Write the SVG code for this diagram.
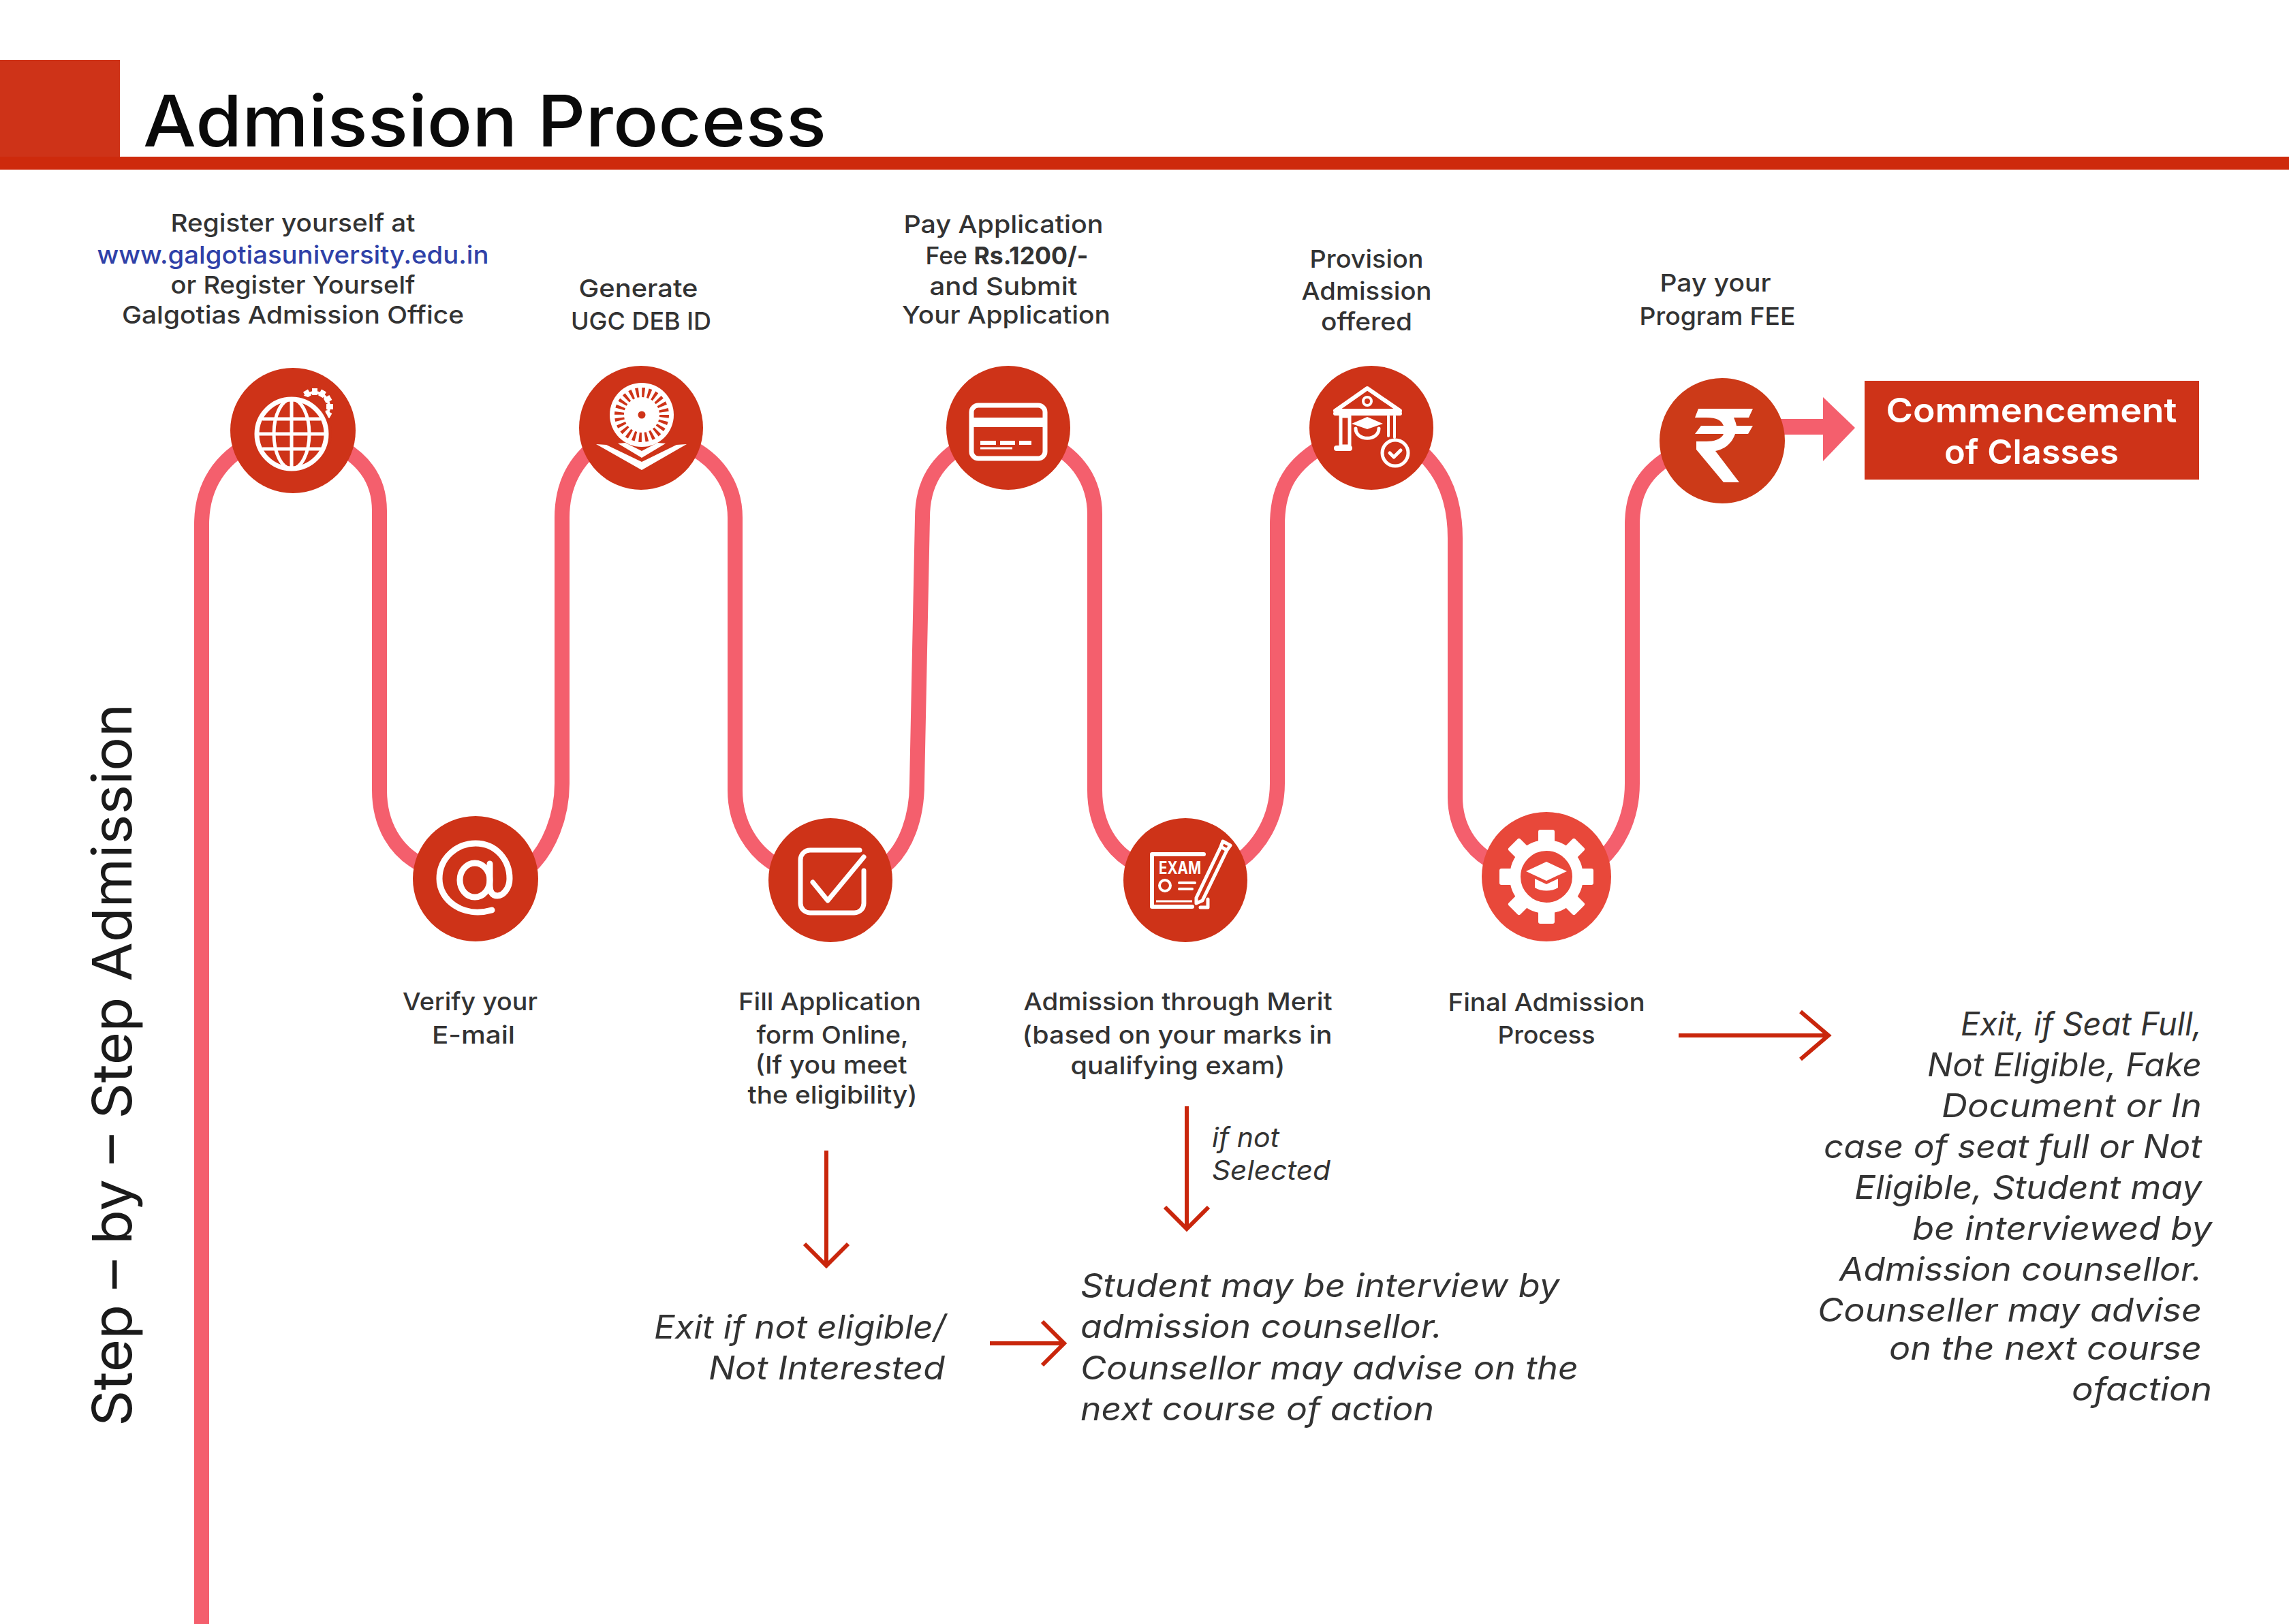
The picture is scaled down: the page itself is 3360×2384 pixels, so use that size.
<svg xmlns="http://www.w3.org/2000/svg" xmlns:xlink="http://www.w3.org/1999/xlink" width="3360" height="2384" viewBox="0 0 3360 2384">
<style>
text{font-family:"Inter","Liberation Sans",sans-serif}
.l{font-size:36px;fill:#333;text-anchor:middle;font-weight:500}
.i{font-size:48px;fill:#333;font-style:italic}
.n{fill:#CE3318}
.w{fill:none;stroke:#fff;stroke-width:7;stroke-linejoin:round;stroke-linecap:round}
.f{fill:#fff}
.a{fill:none;stroke:#C9260C;stroke-width:6}
</style>
<defs>
<rect id="tooth" class="f" x="-12" y="-69" width="24" height="24" rx="3"/>
<rect id="cog" class="f" x="-4" y="-27" width="8" height="10"/>
</defs>
<rect width="3360" height="2384" fill="#fff"/>
<g id="header">
<rect x="0" y="88" width="176" height="161" fill="#CE3318"/>
<rect x="0" y="230" width="3360" height="19" fill="#CE2A0C"/>
<text x="210" y="215" font-size="104" font-weight="500" fill="#0a0a0a" textLength="1003" lengthAdjust="spacingAndGlyphs">Admission Process</text>
</g>
<text id="side-title" transform="translate(193 2094) rotate(-90)" font-size="80" fill="#1a1a1a" textLength="1061" lengthAdjust="spacingAndGlyphs">Step – by – Step Admission</text>
<g id="connectors">
<path fill="none" stroke="#F45F6D" stroke-width="22" d="M296 2384V770C296 712 325 672 370 650L490 650C530 672 557 700 557 750V1160C557 1210 580 1250 620 1270L780 1270C805 1245 825 1200 825 1150V760C825 710 845 675 880 650L1000 650C1050 670 1079 710 1079 760V1160C1079 1210 1105 1250 1140 1270L1300 1270C1330 1245 1346 1200 1346 1150L1354 760C1354 710 1375 675 1420 650L1540 650C1580 670 1607 705 1607 755V1160C1607 1210 1630 1250 1670 1270L1810 1270C1850 1245 1875 1200 1875 1150V770C1875 715 1895 680 1950 650L2070 650C2110 680 2136 720 2136 790V1170C2136 1210 2155 1250 2200 1270L2340 1270C2375 1245 2396 1200 2396 1150V770C2396 715 2420 685 2470 660"/>
<path fill="#F45F6D" d="M2600 615H2676V583L2723 628L2676 677V638H2600Z"/>
<path class="a" d="M1213 1689V1858M1181 1826L1213 1858L1245 1826"/>
<path class="a" d="M1742 1624V1804M1710 1772L1742 1804L1774 1772"/>
<path class="a" d="M1453 1972H1562M1530 1940L1562 1972L1530 2004"/>
<path class="a" d="M2464 1520H2684M2643 1485L2684 1520L2643 1555"/>
</g>
<g id="node-register">
<circle class="n" cx="430" cy="632" r="92"/>
<g transform="translate(462 597)"><circle class="w" r="21" style="stroke-width:4"/><use xlink:href="#cog" href="#cog"/><use href="#cog" transform="rotate(30)"/><use href="#cog" transform="rotate(60)"/><use href="#cog" transform="rotate(90)"/><use href="#cog" transform="rotate(120)"/><use href="#cog" transform="rotate(150)"/><use href="#cog" transform="rotate(-30)"/></g>
<circle class="n" cx="428" cy="637" r="59"/>
<circle class="w" cx="428" cy="637" r="51"/><ellipse class="w" cx="428" cy="637" rx="26" ry="51" style="stroke-width:5"/><path class="w" d="M428 586V688M381 637H475M386 615H470M386 659H470" style="stroke-width:5"/>
<text class="l" x="430" y="340" textLength="359" lengthAdjust="spacingAndGlyphs">Register yourself at</text>
<text class="l" x="430" y="387" textLength="575" lengthAdjust="spacingAndGlyphs" style="fill:#2F41A8">www.galgotiasuniversity.edu.in</text>
<text class="l" x="430" y="431" textLength="359" lengthAdjust="spacingAndGlyphs">or Register Yourself</text>
<text class="l" x="430" y="475" textLength="502" lengthAdjust="spacingAndGlyphs">Galgotias Admission Office</text>
</g>
<g id="node-verify">
<circle class="n" cx="698" cy="1290" r="92"/>
<path class="w" style="stroke-width:9" d="M722 1336C680 1348 645 1322 645 1290C645 1258 672 1238 698 1238C728 1238 748 1262 748 1290C748 1305 738 1315 730 1315C722 1315 719 1308 719 1300V1268"/>
<ellipse class="w" style="stroke-width:9" cx="697" cy="1292" rx="22" ry="25"/>
<text class="l" x="690" y="1483" textLength="198" lengthAdjust="spacingAndGlyphs">Verify your</text>
<text class="l" x="695" y="1532" textLength="122" lengthAdjust="spacingAndGlyphs">E-mail</text>
</g>
<g id="node-ugc">
<circle class="n" cx="941" cy="628" r="91"/>
<circle cx="942" cy="609" r="47" class="f"/><circle cx="942" cy="609" r="33" fill="none" stroke="#CE3318" stroke-width="14" stroke-dasharray="4 4.64"/><circle cx="942" cy="609" r="5.5" class="n"/>
<path class="f" d="M875 652L890 653L942 678L993 653L1008 652L942 690Z"/>
<path class="f" d="M907 651L918 650L942 662L965 650L977 651L942 672Z"/>
<text class="l" x="937" y="436" textLength="175" lengthAdjust="spacingAndGlyphs">Generate</text>
<text class="l" x="941" y="484" textLength="206" lengthAdjust="spacingAndGlyphs">UGC DEB ID</text>
</g>
<g id="node-fill">
<circle class="n" cx="1219" cy="1292" r="91"/>
<path class="w" d="M1268 1278V1326A14 14 0 0 1 1254 1340H1189A14 14 0 0 1 1175 1326V1262A14 14 0 0 1 1189 1248H1262"/>
<path class="w" d="M1193 1295L1215 1322L1268 1258"/>
<text class="l" x="1218" y="1483" textLength="268" lengthAdjust="spacingAndGlyphs">Fill Application</text>
<text class="l" x="1222" y="1532" textLength="223" lengthAdjust="spacingAndGlyphs">form Online,</text>
<text class="l" x="1220" y="1576" textLength="223" lengthAdjust="spacingAndGlyphs">(If you meet</text>
<text class="l" x="1222" y="1620" textLength="249" lengthAdjust="spacingAndGlyphs">the eligibility)</text>
</g>
<g id="node-fee">
<circle class="n" cx="1480" cy="628" r="91"/>
<rect class="w" x="1426" y="595" width="108" height="78" rx="10"/>
<rect class="f" x="1426" y="613" width="108" height="14"/>
<path class="w" d="M1439 650H1462M1468 650H1490M1496 650H1514" style="stroke-width:6;stroke-linecap:butt"/>
<path class="w" d="M1439 658H1486" style="stroke-width:3;stroke-linecap:butt"/>
<text class="l" x="1473" y="342" textLength="293" lengthAdjust="spacingAndGlyphs">Pay Application</text>
<text class="l" x="1478" y="388" textLength="239" lengthAdjust="spacingAndGlyphs">Fee <tspan font-weight="700">Rs.1200/-</tspan></text>
<text class="l" x="1473" y="433" textLength="217" lengthAdjust="spacingAndGlyphs">and Submit</text>
<text class="l" x="1477" y="475" textLength="306" lengthAdjust="spacingAndGlyphs">Your Application</text>
</g>
<g id="node-merit">
<circle class="n" cx="1740" cy="1292" r="91"/>
<path class="w" d="M1767 1254H1691V1331H1750" style="stroke-width:6"/>
<text x="1701" y="1283" font-size="25" font-weight="700" fill="#fff" textLength="62" lengthAdjust="spacingAndGlyphs">EXAM</text>
<circle class="w" cx="1710" cy="1300" r="8" style="stroke-width:4"/><path class="w" d="M1731 1296H1754M1731 1305H1750" style="stroke-width:4"/>
<path d="M1697 1323H1750" stroke="#fff" stroke-width="3"/>
<path fill="#CE3318" stroke="#fff" stroke-width="5" stroke-linejoin="round" d="M1792 1243L1801 1248L1806 1241L1795 1235ZM1792 1243L1756 1318L1756 1326L1765 1322L1801 1248Z"/>
<path class="w" d="M1762 1332H1773V1320" style="stroke-width:5"/>
<text class="l" x="1729" y="1483" textLength="453" lengthAdjust="spacingAndGlyphs">Admission through Merit</text>
<text class="l" x="1728" y="1532" textLength="455" lengthAdjust="spacingAndGlyphs">(based on your marks in</text>
<text class="l" x="1729" y="1577" textLength="315" lengthAdjust="spacingAndGlyphs">qualifying exam)</text>
</g>
<g id="node-offer">
<circle class="n" cx="2013" cy="628" r="91"/>
<path class="w" d="M2007 570L1960 603H2055ZM1960 607H2055" style="stroke-width:6"/>
<circle class="w" cx="2007" cy="589" r="6" style="stroke-width:4"/>
<rect class="w" x="1968" y="611" width="13" height="44" style="stroke-width:5"/>
<path class="w" d="M1962 658H1981" style="stroke-width:8"/>
<path class="w" d="M2038 611V640M2047 611V642" style="stroke-width:4"/>
<path class="f" d="M2007 612L2030 622L2007 630L1984 622Z"/>
<path class="w" d="M1990 629C1990 648 2024 648 2024 629" style="stroke-width:5"/>
<circle class="w" cx="2048" cy="665" r="19" style="stroke-width:5"/>
<path class="w" d="M2040 665L2046 671L2056 661" style="stroke-width:5"/>
<text class="l" x="2006" y="393" textLength="167" lengthAdjust="spacingAndGlyphs">Provision</text>
<text class="l" x="2006" y="440" textLength="191" lengthAdjust="spacingAndGlyphs">Admission</text>
<text class="l" x="2006" y="485" textLength="134" lengthAdjust="spacingAndGlyphs">offered</text>
</g>
<g id="node-final">
<circle cx="2270" cy="1287" r="95" fill="#E8483A"/>
<g transform="translate(2270 1287)">
<circle r="46" fill="none" stroke="#fff" stroke-width="16"/>
<use href="#tooth"/><use href="#tooth" transform="rotate(45)"/><use href="#tooth" transform="rotate(90)"/><use href="#tooth" transform="rotate(135)"/><use href="#tooth" transform="rotate(180)"/><use href="#tooth" transform="rotate(225)"/><use href="#tooth" transform="rotate(270)"/><use href="#tooth" transform="rotate(315)"/>
<path class="f" d="M0 -22L30 -8L0 6L-30 -8Z"/>
<path class="f" d="M-17 3L0 11L17 3V16C8 22 -8 22 -17 16Z"/>
</g>
<text class="l" x="2270" y="1484" textLength="289" lengthAdjust="spacingAndGlyphs">Final Admission</text>
<text class="l" x="2270" y="1532" textLength="143" lengthAdjust="spacingAndGlyphs">Process</text>
</g>
<g id="node-pay">
<circle cx="2528" cy="647" r="92" fill="#CC3A18"/>
<path class="f" d="M2493 600H2573L2567 613H2545Q2548 620 2549 625H2573L2566 637H2547C2542 652 2530 660 2518 662L2553 708H2530L2490 660V648H2505C2515 648 2527 645 2530 637H2488L2497 625H2530C2527 617 2520 613 2505 613H2488Z"/>
<text class="l" x="2518" y="428" textLength="163" lengthAdjust="spacingAndGlyphs">Pay your</text>
<text class="l" x="2521" y="477" textLength="229" lengthAdjust="spacingAndGlyphs">Program FEE</text>
</g>
<g id="node-classes">
<rect x="2737" y="559" width="491" height="145" fill="#CE3318"/>
<text x="2982" y="620" font-size="50" font-weight="600" fill="#fff" text-anchor="middle" textLength="427" lengthAdjust="spacingAndGlyphs">Commencement</text>
<text x="2982" y="681" font-size="50" font-weight="600" fill="#fff" text-anchor="middle" textLength="256" lengthAdjust="spacingAndGlyphs">of Classes</text>
</g>
<g id="exit-notes">
<text class="i" x="1779" y="1684" style="font-size:40px" textLength="99" lengthAdjust="spacingAndGlyphs">if not</text>
<text class="i" x="1779" y="1732" style="font-size:40px" textLength="174" lengthAdjust="spacingAndGlyphs">Selected</text>
<text class="i" x="960" y="1965" textLength="428" lengthAdjust="spacingAndGlyphs">Exit if not eligible/</text>
<text class="i" x="1040" y="2025" textLength="347" lengthAdjust="spacingAndGlyphs">Not Interested</text>
<text class="i" x="1586" y="1904" textLength="703" lengthAdjust="spacingAndGlyphs">Student may be interview by</text>
<text class="i" x="1586" y="1964" textLength="531" lengthAdjust="spacingAndGlyphs">admission counsellor.</text>
<text class="i" x="1586" y="2025" textLength="731" lengthAdjust="spacingAndGlyphs">Counsellor may advise on the</text>
<text class="i" x="1586" y="2085" textLength="519" lengthAdjust="spacingAndGlyphs">next course of action</text>
<text class="i" x="2878" y="1520" textLength="354" lengthAdjust="spacingAndGlyphs">Exit, if Seat Full,</text>
<text class="i" x="2829" y="1580" textLength="403" lengthAdjust="spacingAndGlyphs">Not Eligible, Fake</text>
<text class="i" x="2850" y="1640" textLength="382" lengthAdjust="spacingAndGlyphs">Document or In</text>
<text class="i" x="2677" y="1700" textLength="555" lengthAdjust="spacingAndGlyphs">case of seat full or Not</text>
<text class="i" x="2722" y="1760" textLength="510" lengthAdjust="spacingAndGlyphs">Eligible, Student may</text>
<text class="i" x="2807" y="1820" textLength="440" lengthAdjust="spacingAndGlyphs">be interviewed by</text>
<text class="i" x="2700" y="1880" textLength="532" lengthAdjust="spacingAndGlyphs">Admission counsellor.</text>
<text class="i" x="2668" y="1940" textLength="564" lengthAdjust="spacingAndGlyphs">Counseller may advise</text>
<text class="i" x="2773" y="1996" textLength="459" lengthAdjust="spacingAndGlyphs">on the next course</text>
<text class="i" x="3041" y="2056" textLength="206" lengthAdjust="spacingAndGlyphs">ofaction</text>
</g>
</svg>
